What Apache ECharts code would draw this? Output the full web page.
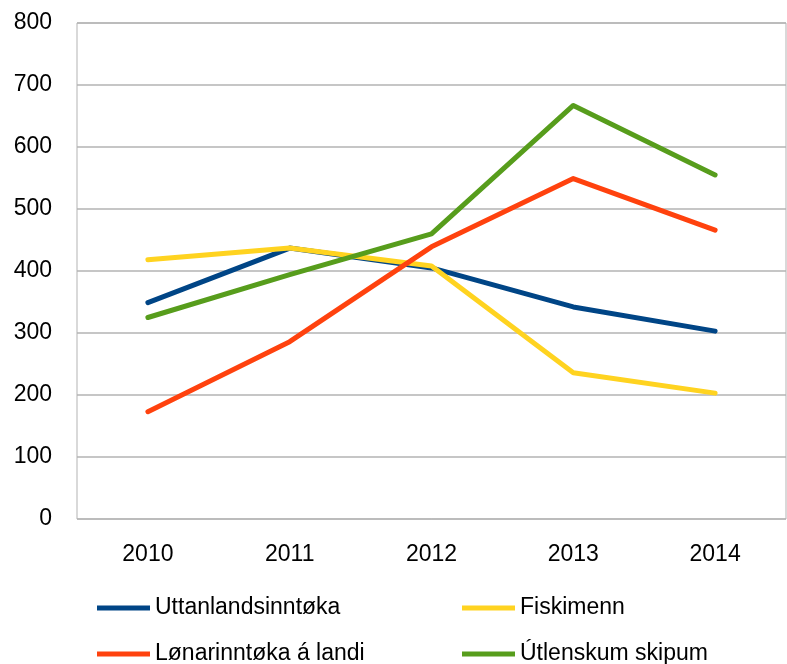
<!DOCTYPE html>
<html>
<head>
<meta charset="utf-8" />
<title>Inntøkur</title>
<script src="https://cdn.jsdelivr.net/npm/echarts@6/dist/echarts.min.js"></script>
<style>
  html, body { margin: 0; padding: 0; background: #fff; }
  #main { width: 787px; height: 664px; }
</style>
</head>
<body>
<div id="main"></div>
<script>
  // data
  var years = ['2010', '2011', '2012', '2013', '2014'];
  var uttanlands = [349, 437, 405, 342, 303];
  var fiskimenn = [418, 437, 408, 236, 203];
  var lonar = [173, 286, 439, 549, 466];
  var utlenskum = [325, 394, 460, 667, 555];
  var names = ['Uttanlandsinntøka', 'Fiskimenn', 'Lønarinntøka á landi', 'Útlenskum skipum'];
  var colors = ['#004586', '#FFD320', '#FF420E', '#579D1C'];

  var font = 'Liberation Sans';

  function line(name, data, color) {
    return {
      name: name,
      type: 'line',
      data: data,
      symbol: 'none',
      color: color,
      lineStyle: { width: 5, color: color, cap: 'round', join: 'round' }
    };
  }

  // one legend per entry, 2x2 like the original
  function legendItem(left, top, name) {
    return {
      left: left, top: top,
      itemWidth: 53, itemHeight: 5,
      icon: 'rect',
      textStyle: { fontFamily: font, fontSize: 23, color: '#000', lineHeight: 26 },
      data: [name]
    };
  }

  var myChart = echarts.init(document.getElementById('main'));
  var option = {
    animation: false,
    grid: {
      left: 77, right: 1, top: 23, bottom: 145,
      show: true, borderColor: '#b3b3b3', borderWidth: 1
    },
    legend: [
      legendItem(92, 590, names[0]),
      legendItem(457, 590, names[1]),
      legendItem(92, 636, names[2]),
      legendItem(457, 636, names[3])
    ],
    xAxis: {
      type: 'category',
      data: years,
      boundaryGap: true,
      axisLine: { show: false },
      axisTick: { show: false },
      axisLabel: { fontFamily: font, fontSize: 23, color: '#000', margin: 24 }
    },
    yAxis: {
      type: 'value',
      min: 0, max: 800, interval: 100,
      axisLine: { show: false },
      axisTick: { show: false },
      splitLine: { lineStyle: { color: '#b3b3b3', width: 1.5 } },
      axisLabel: { fontFamily: font, fontSize: 23, color: '#000', margin: 25 }
    },
    series: [
      line(names[0], uttanlands, colors[0]),
      line(names[1], fiskimenn, colors[1]),
      line(names[2], lonar, colors[2]),
      line(names[3], utlenskum, colors[3])
    ]
  };
  myChart.setOption(option);
</script>
</body>
</html>
